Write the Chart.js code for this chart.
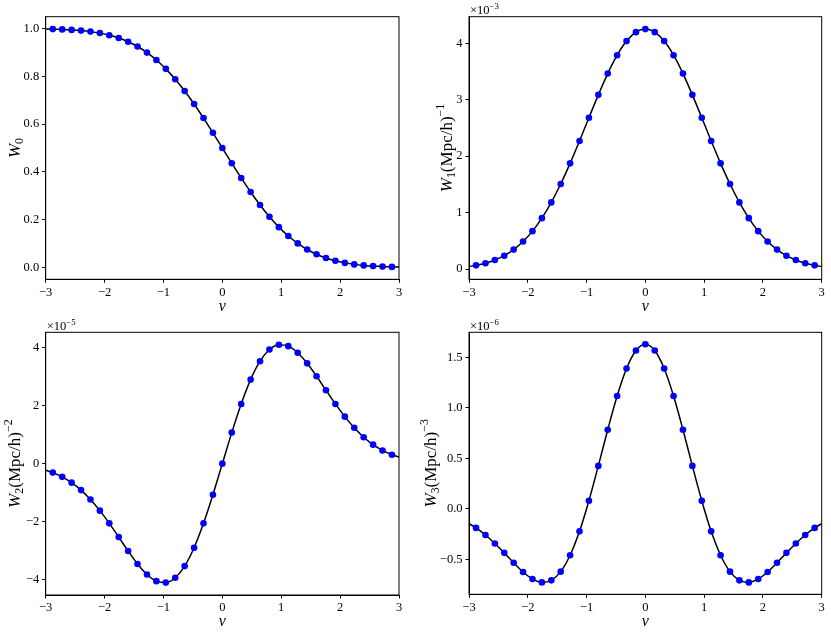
<!DOCTYPE html>
<html>
<head>
<meta charset="utf-8">
<script src="https://cdn.jsdelivr.net/npm/chart.js@4.4.1/dist/chart.umd.min.js"></script>
<style>
  html, body { margin: 0; padding: 0; background: #fff; }
  #fig { position: relative; width: 831px; height: 634px; }
  #fig canvas { position: absolute; }
</style>
</head>
<body>
<div id="fig">
  <canvas id="c0" width="415" height="317" style="left:0;top:0"></canvas>
  <canvas id="c1" width="411" height="317" style="left:420px;top:0"></canvas>
  <canvas id="c2" width="415" height="317" style="left:0;top:317px"></canvas>
  <canvas id="c3" width="411" height="317" style="left:420px;top:317px"></canvas>
</div>
<script>
// threshold values (blue markers)
const nu = [-2.88, -2.72, -2.56, -2.40, -2.24, -2.08, -1.92, -1.76, -1.60, -1.44, -1.28, -1.12, -0.96,
  -0.80, -0.64, -0.48, -0.32, -0.16, 0, 0.16, 0.32, 0.48, 0.64, 0.80, 0.96, 1.12, 1.28, 1.44,
  1.60, 1.76, 1.92, 2.08, 2.24, 2.40, 2.56, 2.72, 2.88];
// black curve runs to the axis edges
const nuEnds = [-3, 3];

const w0 = [0.9980, 0.9967, 0.9948, 0.9918, 0.9875, 0.9812, 0.9726, 0.9608, 0.9452, 0.9251, 0.8997,
  0.8686, 0.8315, 0.7881, 0.7389, 0.6844, 0.6255, 0.5636, 0.5000, 0.4364, 0.3745, 0.3156, 0.2611,
  0.2119, 0.1685, 0.1314, 0.1003, 0.0749, 0.0548, 0.0392, 0.0274, 0.0188, 0.0125, 0.0082, 0.0052,
  0.0033, 0.0020];
const w0Ends = [0.9987, 0.0013];

// units of 1e-3
const w1 = [0.067, 0.105, 0.161, 0.238, 0.346, 0.489, 0.673, 0.903, 1.182, 1.507, 1.873, 2.270, 2.681,
  3.086, 3.463, 3.788, 4.038, 4.196, 4.250, 4.196, 4.038, 3.788, 3.463, 3.086, 2.681, 2.270, 1.873,
  1.507, 1.182, 0.903, 0.673, 0.489, 0.346, 0.238, 0.161, 0.105, 0.067];
const w1Ends = [0.047, 0.047];

// units of 1e-5
const w2 = [-0.308, -0.454, -0.654, -0.910, -1.233, -1.617, -2.055, -2.528, -3.007, -3.452, -3.814,
  -4.044, -4.094, -3.927, -3.525, -2.892, -2.055, -1.068, 0, 1.068, 2.055, 2.892, 3.525, 3.927, 4.094,
  4.044, 3.814, 3.452, 3.007, 2.528, 2.055, 1.617, 1.233, 0.910, 0.654, 0.454, 0.308];
const w2Ends = [-0.225, 0.225];

// units of 1e-6
const w3 = [-0.188, -0.258, -0.342, -0.435, -0.533, -0.624, -0.693, -0.727, -0.707, -0.621, -0.459,
  -0.222, 0.081, 0.426, 0.784, 1.118, 1.390, 1.568, 1.630, 1.568, 1.390, 1.118, 0.784, 0.426, 0.081,
  -0.222, -0.459, -0.621, -0.707, -0.727, -0.693, -0.624, -0.533, -0.435, -0.342, -0.258, -0.188];
const w3Ends = [-0.145, -0.145];

const xTicks = [-3, -2, -1, 0, 1, 2, 3];
const yTicks0 = [0, 0.2, 0.4, 0.6, 0.8, 1.0];
const yTicks1 = [0, 1, 2, 3, 4];
const yTicks2 = [-4, -2, 0, 2, 4];
const yTicks3 = [-0.5, 0, 0.5, 1.0, 1.5];

const FONT = "'Liberation Serif', 'DejaVu Serif', serif";

function fmt(d) {
  return v => (v < 0 ? '\u2212' : '') + Math.abs(v).toFixed(d);
}

// draws text pieces: italic / sub / sup
function drawParts(ctx, parts, x, y, size, align) {
  const fontOf = p => (p.it ? 'italic ' : '') + ((p.sub || p.sup) ? size * 0.7 : size) + 'px ' + FONT;
  let total = 0;
  parts.forEach(p => { ctx.font = fontOf(p); p.w = ctx.measureText(p.t).width; total += p.w; });
  let cx = align === 'center' ? x - total / 2 : x;
  ctx.textAlign = 'left';
  ctx.textBaseline = 'alphabetic';
  parts.forEach(p => {
    ctx.font = fontOf(p);
    let dy = 0;
    if (p.sub) dy = size * 0.22;
    if (p.sup) dy = -size * 0.42;
    ctx.fillText(p.t, cx, y + dy);
    cx += p.w;
  });
}

const axisText = {
  id: 'axisText',
  afterDraw(chart, args, o) {
    const ctx = chart.ctx, a = chart.chartArea;
    ctx.save();
    ctx.strokeStyle = '#000';
    ctx.lineWidth = 1;
    ctx.strokeRect(a.left, a.top, a.right - a.left, a.bottom - a.top);
    ctx.fillStyle = '#000';
    ctx.font = 'italic 16px ' + FONT;
    ctx.textAlign = 'center';
    ctx.textBaseline = 'middle';
    ctx.fillText('\u03bd', (a.left + a.right) / 2, a.bottom + o.xLabelDy);
    if (o.offset) {
      drawParts(ctx, [{t: '\u00d710'}, {t: o.offset, sup: true}], a.left + 1, a.top - 2.5, 12.5, 'left');
    }
    ctx.translate(o.yLabelX, (a.top + a.bottom) / 2);
    ctx.rotate(-Math.PI / 2);
    drawParts(ctx, o.yLabel, 0, 5.5, 17, 'center');
    ctx.restore();
  }
};

function panel(id, c) {
  const cv = document.getElementById(id);
  const W = cv.width, H = cv.height;
  const pts = nu.map((x, i) => ({x: x, y: c.vals[i]}));
  const curve = [{x: nuEnds[0], y: c.ends[0]}].concat(pts, [{x: nuEnds[1], y: c.ends[1]}]);
  const grid = { drawOnChartArea: false, drawTicks: true, tickLength: 3.5, tickColor: '#000', tickWidth: 1 };
  const border = { display: true, color: '#000', width: 1 };
  new Chart(cv, {
    type: 'scatter',
    data: {
      datasets: [
        { data: pts, showLine: false, pointRadius: 3.3, pointBackgroundColor: '#0000ff', pointBorderWidth: 0 },
        { data: curve, showLine: true, pointRadius: 0, borderColor: '#000', borderWidth: 1.5,
          cubicInterpolationMode: 'monotone' }
      ]
    },
    options: {
      responsive: false,
      animation: false,
      events: [],
      layout: { padding: { top: c.box.top, right: W - c.box.right, left: 0, bottom: 0 } },
      plugins: {
        legend: { display: false },
        tooltip: { enabled: false },
        axisText: { yLabel: c.yLabel, yLabelX: c.yLabelX, offset: c.offset, xLabelDy: 27 }
      },
      scales: {
        x: {
          type: 'linear', min: -3, max: 3,
          grid: grid, border: border,
          ticks: { color: '#000', font: { family: FONT, size: 12.5 }, padding: 2, autoSkip: false,
                   maxRotation: 0, callback: fmt(0) },
          afterBuildTicks: s => { s.ticks = xTicks.map(v => ({value: v})); },
          afterFit: s => { s.height = H - c.box.bottom; }
        },
        y: {
          type: 'linear', min: c.yMin, max: c.yMax,
          grid: grid, border: border,
          ticks: { color: '#000', font: { family: FONT, size: 12.5 }, padding: 3, autoSkip: false,
                   callback: fmt(c.dec) },
          afterBuildTicks: s => { s.ticks = c.yTicks.map(v => ({value: v})); },
          afterFit: s => { s.width = c.box.left; }
        }
      }
    },
    plugins: [axisText]
  });
}

panel('c0', {
  vals: w0, ends: w0Ends, yMin: -0.05, yMax: 1.05, yTicks: yTicks0, dec: 1,
  box: { left: 45.7, top: 16.7, right: 399, bottom: 279.3 },
  yLabel: [{t: 'W', it: true}, {t: '0', sub: true}], yLabelX: 14
});
panel('c1', {
  vals: w1, ends: w1Ends, yMin: -0.18, yMax: 4.47, yTicks: yTicks1, dec: 0,
  box: { left: 49, top: 16.7, right: 401.7, bottom: 279.3 },
  yLabel: [{t: 'W', it: true}, {t: '1', sub: true}, {t: '(Mpc/h)'}, {t: '\u22121', sup: true}],
  yLabelX: 26, offset: '\u22123'
});
panel('c2', {
  vals: w2, ends: w2Ends, yMin: -4.52, yMax: 4.52, yTicks: yTicks2, dec: 0,
  box: { left: 45.7, top: 15.3, right: 399, bottom: 278 },
  yLabel: [{t: 'W', it: true}, {t: '2', sub: true}, {t: '(Mpc/h)'}, {t: '\u22122', sup: true}],
  yLabelX: 14, offset: '\u22125'
});
panel('c3', {
  vals: w3, ends: w3Ends, yMin: -0.845, yMax: 1.748, yTicks: yTicks3, dec: 1,
  box: { left: 49, top: 15.3, right: 401.7, bottom: 277.3 },
  yLabel: [{t: 'W', it: true}, {t: '3', sub: true}, {t: '(Mpc/h)'}, {t: '\u22123', sup: true}],
  yLabelX: 10, offset: '\u22126'
});
</script>
</body>
</html>
